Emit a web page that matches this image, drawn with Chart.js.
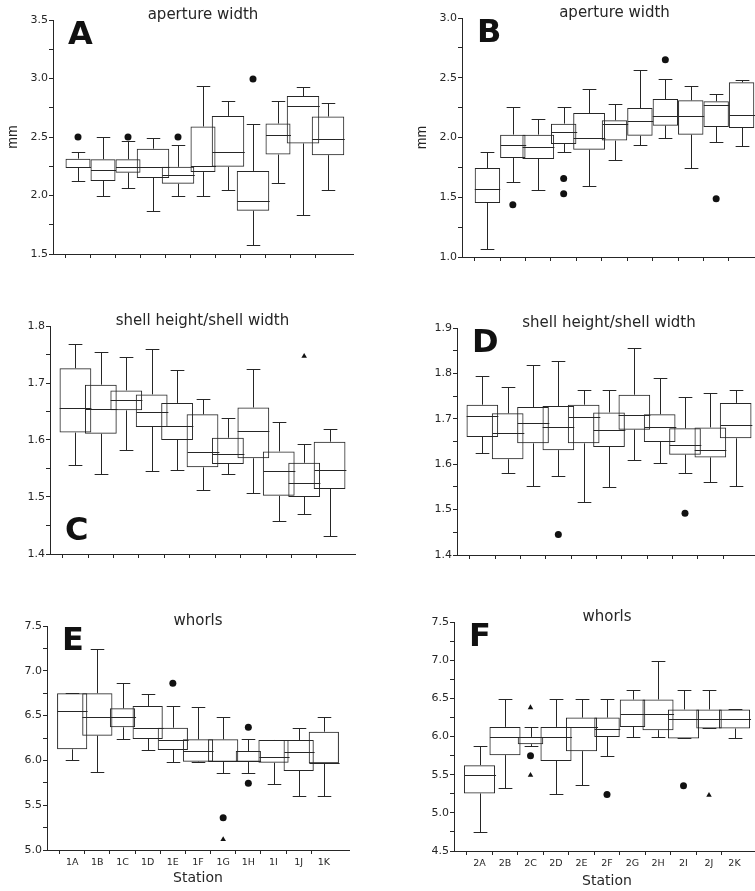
<!DOCTYPE html>
<html>
<head>
<meta charset="utf-8">
<script src="https://cdn.jsdelivr.net/npm/chart.js@4.4.1/dist/chart.umd.min.js"></script>
<style>
  html, body { margin: 0; padding: 0; background: #fff; width: 755px; height: 891px; overflow: hidden; position: relative; }
  canvas { position: absolute; }
</style>
</head>
<body>
<script>
// stations
const stations1 = ['1A', '1B', '1C', '1D', '1E', '1F', '1G', '1H', '1I', '1J', '1K'];
const stations2 = ['2A', '2B', '2C', '2D', '2E', '2F', '2G', '2H', '2I', '2J', '2K'];

// A: aperture width, stations 1
const aLo  = [2.12, 2.00, 2.06, 1.87, 2.00, 2.00, 2.05, 1.58, 2.11, 1.83, 2.045];
const aQ1  = [2.235, 2.125, 2.195, 2.15, 2.10, 2.20, 2.245, 1.87, 2.35, 2.445, 2.345];
const aMed = [2.245, 2.215, 2.245, 2.245, 2.175, 2.255, 2.375, 1.955, 2.515, 2.765, 2.48];
const aQ3  = [2.315, 2.31, 2.31, 2.40, 2.245, 2.59, 2.68, 2.21, 2.615, 2.85, 2.675];
const aHi  = [2.375, 2.50, 2.47, 2.495, 2.43, 2.935, 2.81, 2.615, 2.81, 2.93, 2.79];
const aDots = [['1A', 2.50], ['1C', 2.50], ['1E', 2.50], ['1H', 2.995]];
const aTris = [];
const aWide = ['1D', '1E', '1G', '1H', '1J', '1K'];

// B: aperture width, stations 2
const bLo  = [1.067, 1.625, 1.563, 1.879, 1.591, 1.809, 1.934, 2.00, 1.745, 1.96, 1.926];
const bQ1  = [1.452, 1.828, 1.82, 1.946, 1.898, 1.974, 2.015, 2.099, 2.024, 2.088, 2.08];
const bMed = [1.572, 1.934, 1.92, 2.046, 1.996, 2.116, 2.135, 2.183, 2.177, 2.275, 2.191];
const bQ3  = [1.745, 2.024, 2.024, 2.116, 2.205, 2.144, 2.247, 2.322, 2.311, 2.303, 2.462];
const bHi  = [1.879, 2.252, 2.158, 2.252, 2.406, 2.28, 2.562, 2.492, 2.434, 2.364, 2.484];
const bDots = [['2B', 1.438], ['2D', 1.656], ['2D', 1.53], ['2H', 2.651], ['2J', 1.488]];
const bTris = [];
const bWide = ['2C', '2E'];

// C: shell height/shell width, stations 1
const cLo  = [1.556, 1.541, 1.583, 1.545, 1.547, 1.512, 1.541, 1.507, 1.458, 1.471, 1.432];
const cQ1  = [1.613, 1.611, 1.652, 1.623, 1.600, 1.552, 1.558, 1.568, 1.502, 1.500, 1.514];
const cMed = [1.657, 1.654, 1.670, 1.649, 1.624, 1.579, 1.575, 1.616, 1.545, 1.525, 1.547];
const cQ3  = [1.726, 1.697, 1.687, 1.680, 1.665, 1.645, 1.604, 1.657, 1.580, 1.560, 1.597];
const cHi  = [1.769, 1.755, 1.746, 1.760, 1.722, 1.672, 1.639, 1.724, 1.632, 1.593, 1.620];
const cDots = [];
const cTris = [['1J', 1.747]];
const cWide = stations1;

// D: shell height/shell width, stations 2
const dLo  = [1.624, 1.580, 1.552, 1.574, 1.516, 1.549, 1.609, 1.602, 1.581, 1.561, 1.552];
const dQ1  = [1.660, 1.611, 1.646, 1.631, 1.646, 1.638, 1.676, 1.649, 1.621, 1.615, 1.657];
const dMed = [1.706, 1.668, 1.690, 1.682, 1.704, 1.676, 1.709, 1.682, 1.643, 1.632, 1.686];
const dQ3  = [1.731, 1.712, 1.726, 1.728, 1.731, 1.714, 1.753, 1.710, 1.679, 1.681, 1.735];
const dHi  = [1.794, 1.770, 1.819, 1.827, 1.764, 1.763, 1.855, 1.790, 1.748, 1.756, 1.764];
const dDots = [['2D', 1.445], ['2I', 1.492]];
const dTris = [];
const dWide = stations2;

// E: whorls, stations 1
const eLo  = [6.00, 5.867, 6.239, 6.116, 5.986, 5.986, 5.863, 5.863, 5.737, 5.606, 5.606];
const eQ1  = [6.124, 6.276, 6.369, 6.239, 6.116, 5.986, 5.986, 5.985, 5.974, 5.882, 5.967];
const eMed = [6.551, 6.488, 6.488, 6.358, 6.228, 6.105, 5.99, 5.99, 6.034, 6.09, 5.975];
const eQ3  = [6.75, 6.75, 6.581, 6.607, 6.365, 6.235, 6.235, 6.105, 6.228, 6.228, 6.32];
const eHi  = [6.75, 7.24, 6.86, 6.737, 6.607, 6.60, 6.481, 6.235, 6.228, 6.358, 6.481];
const eDots = [['1E', 6.86], ['1G', 5.361], ['1H', 6.369], ['1H', 5.744]];
const eTris = [['1G', 5.119]];
const eWide = ['1A', '1B', '1D', '1E', '1F', '1G', '1I', '1J', '1K'];

// F: whorls, stations 2
const fLo  = [4.744, 5.319, 5.874, 5.245, 5.363, 5.742, 5.995, 5.995, 5.974, 6.105, 5.974];
const fQ1  = [5.254, 5.756, 5.90, 5.68, 5.808, 5.995, 6.126, 6.083, 5.974, 6.105, 6.105];
const fMed = [5.494, 5.995, 5.995, 5.995, 6.126, 6.104, 6.292, 6.292, 6.223, 6.223, 6.223];
const fQ3  = [5.625, 6.126, 5.995, 6.126, 6.248, 6.248, 6.484, 6.485, 6.354, 6.354, 6.354];
const fHi  = [5.873, 6.497, 6.126, 6.497, 6.497, 6.497, 6.615, 6.985, 6.606, 6.606, 6.354];
const fDots = [['2C', 5.747], ['2F', 5.241], ['2I', 5.354]];
const fTris = [['2C', 6.379], ['2C', 5.494], ['2J', 5.232]];
const fWide = ['2A', '2B', '2D', '2E', '2H', '2I', '2K'];

const INK = '#262626';
const FONT = "'DejaVu Sans', sans-serif";
const Y_W = 52;     // forced y-axis width
const PAD_TOP = 30; // room above plot for title

const panels = [
  { letter: 'A', title: 'aperture width', st: stations1, lo: aLo, q1: aQ1, med: aMed, q3: aQ3, hi: aHi, dots: aDots, tris: aTris, wide: aWide, wf: 1.3,
    axisX: 53, slot: 25.17, top: 20, bottom: 254, yMin: 1.5, yMax: 3.5, yStep: 0.25, yMajor: 0.5, yTitle: 'mm', letterPos: 'top' },
  { letter: 'B', title: 'aperture width', st: stations2, lo: bLo, q1: bQ1, med: bMed, q3: bQ3, hi: bHi, dots: bDots, tris: bTris, wide: bWide, wf: 1.25,
    axisX: 462, slot: 25.6, top: 18.3, bottom: 257.3, yMin: 1.0, yMax: 3.0, yStep: 0.25, yMajor: 0.5, yTitle: 'mm', letterPos: 'top' },
  { letter: 'C', title: 'shell height/shell width', st: stations1, lo: cLo, q1: cQ1, med: cMed, q3: cQ3, hi: cHi, dots: cDots, tris: cTris, wide: cWide, wf: 1.25,
    axisX: 49.5, slot: 25.6, top: 325.7, bottom: 554, yMin: 1.4, yMax: 1.8, yStep: 0.05, yMajor: 0.1, letterPos: 'bottom' },
  { letter: 'D', title: 'shell height/shell width', st: stations2, lo: dLo, q1: dQ1, med: dMed, q3: dQ3, hi: dHi, dots: dDots, tris: dTris, wide: dWide, wf: 1.25,
    axisX: 457, slot: 25.5, top: 327.7, bottom: 555, yMin: 1.4, yMax: 1.9, yStep: 0.05, yMajor: 0.1, letterPos: 'top' },
  { letter: 'E', title: 'whorls', st: stations1, lo: eLo, q1: eQ1, med: eMed, q3: eQ3, hi: eHi, dots: eDots, tris: eTris, wide: eWide, wf: 1.2,
    axisX: 47, slot: 25.35, top: 626, bottom: 850, yMin: 5.0, yMax: 7.5, yStep: 0.25, yMajor: 0.5, xLabels: true, xH: 39, letterPos: 'top' },
  { letter: 'F', title: 'whorls', st: stations2, lo: fLo, q1: fQ1, med: fMed, q3: fQ3, hi: fHi, dots: fDots, tris: fTris, wide: fWide, wf: 1.22,
    axisX: 454, slot: 25.7, top: 621.7, bottom: 851, yMin: 4.5, yMax: 7.5, yStep: 0.25, yMajor: 0.5, xLabels: true, xH: 41, letterPos: 'top' },
];

function yTicks(min, max, step) {
  const t = [];
  for (let v = min; v <= max + step / 2; v += step) t.push({ value: Math.round(v * 1000) / 1000 });
  return t;
}

function makePanel(p) {
  const xH = p.xLabels ? p.xH : 10;
  const plotW = p.slot * 12, plotH = p.bottom - p.top;
  const w = Math.round(Y_W + plotW + 2), h = Math.round(PAD_TOP + plotH + xH);
  const cv = document.createElement('canvas');
  cv.width = w; cv.height = h;
  cv.style.width = w + 'px'; cv.style.height = h + 'px';
  cv.style.left = (p.axisX - Y_W) + 'px';
  cv.style.top = (p.top - PAD_TOP) + 'px';
  document.body.appendChild(cv);

  const labels = ['', ...p.st, ''];
  const boxData = (keep) => p.st.map((s, i) => ({ x: s, y: [p.q1[i], p.q3[i]] })).filter((d) => keep(d.x));
  const boxStyle = { type: 'bar', grouped: false, categoryPercentage: 1, inflateAmount: 0, backgroundColor: 'rgba(0,0,0,0)', borderColor: INK, borderWidth: 1, borderSkipped: false };
  const pts = (list) => list.map(([s, v]) => ({ x: s, y: v }));
  const isMajor = (v) => Math.abs(v / p.yMajor - Math.round(v / p.yMajor)) < 1e-6;

  // whiskers, caps and medians, placed through the chart scales
  const whiskers = {
    id: 'whiskers',
    afterDatasetsDraw(chart) {
      const { ctx, scales: { x, y } } = chart;
      const slotPx = x.getPixelForValue(1) - x.getPixelForValue(0);
      const cap = slotPx * 0.27;
      const snap = (v) => Math.round(v) + 0.5;
      const seg = (x1, y1, x2, y2) => { ctx.beginPath(); ctx.moveTo(x1, y1); ctx.lineTo(x2, y2); ctx.stroke(); };
      ctx.save();
      ctx.strokeStyle = INK;
      ctx.lineWidth = 1;
      p.st.forEach((s, i) => {
        const cx = snap(x.getPixelForValue(i + 1));
        const half = slotPx * (p.wide.includes(s) ? p.wf : 1) / 2;
        const yHi = snap(y.getPixelForValue(p.hi[i])), yLo = snap(y.getPixelForValue(p.lo[i]));
        seg(cx, y.getPixelForValue(p.q3[i]), cx, yHi);
        seg(cx - cap, yHi, cx + cap, yHi);
        seg(cx, y.getPixelForValue(p.q1[i]), cx, yLo);
        seg(cx - cap, yLo, cx + cap, yLo);
        const ym = snap(y.getPixelForValue(p.med[i]));
        seg(cx - half, ym, cx + half, ym);
      });
      ctx.restore();
    },
  };

  const panelText = {
    id: 'panelText',
    afterDraw(chart) {
      const { ctx, chartArea: a } = chart;
      ctx.save();
      ctx.fillStyle = INK;
      ctx.textAlign = 'center';
      ctx.textBaseline = 'alphabetic';
      ctx.font = `15px ${FONT}`;
      ctx.fillText(p.title, (a.left + a.right) / 2, a.top - 1.5);
      ctx.fillStyle = '#111';
      ctx.textAlign = 'left';
      ctx.font = `bold 32px ${FONT}`;
      const by = p.letterPos === 'top' ? a.top + 24 : a.bottom - 14;
      ctx.fillText(p.letter, a.left + 15, by);
      ctx.restore();
    },
  };

  new Chart(cv, {
    type: 'bar',
    data: {
      labels,
      datasets: [
        { ...boxStyle, data: boxData((s) => !p.wide.includes(s)), barPercentage: 1 },
        { ...boxStyle, data: boxData((s) => p.wide.includes(s)), barPercentage: p.wf },
        { type: 'line', data: pts(p.dots), showLine: false, pointStyle: 'circle', pointRadius: 3.5, pointBackgroundColor: '#111', pointBorderWidth: 0 },
        { type: 'line', data: pts(p.tris), showLine: false, pointStyle: 'triangle', pointRadius: 3.2, pointBackgroundColor: '#111', pointBorderWidth: 0 },
      ],
    },
    options: {
      responsive: false,
      animation: false,
      devicePixelRatio: 1,
      layout: { padding: { top: PAD_TOP, left: 0, right: 2, bottom: 0 } },
      plugins: { legend: { display: false }, tooltip: { enabled: false }, title: { display: false } },
      scales: {
        x: {
          type: 'category',
          labels,
          offset: false,
          afterFit: (s) => { s.height = xH; },
          ticks: { display: !!p.xLabels, autoSkip: false, maxRotation: 0, padding: 3, color: INK, font: { family: FONT, size: 9.5 } },
          grid: { drawOnChartArea: false, tickLength: 4, color: (c) => (c.index === 0 || c.index === labels.length - 1 ? 'rgba(0,0,0,0)' : INK) },
          border: { display: true, color: INK, width: 1 },
          title: p.xLabels
            ? { display: true, text: 'Station', color: INK, font: { family: FONT, size: 14 }, padding: { top: 0, bottom: 2 } }
            : { display: false },
        },
        y: {
          min: p.yMin,
          max: p.yMax,
          afterFit: (s) => { s.width = Y_W; },
          afterBuildTicks: (s) => { s.ticks = yTicks(p.yMin, p.yMax, p.yStep); },
          ticks: { autoSkip: false, padding: 1, color: INK, font: { family: FONT, size: 11 }, callback: (v) => (isMajor(v) ? v.toFixed(1) : '') },
          grid: { drawOnChartArea: false, tickLength: 4, color: INK },
          border: { display: true, color: INK, width: 1 },
          title: p.yTitle
            ? { display: true, text: p.yTitle, color: INK, font: { family: "'Liberation Sans', sans-serif", size: 14 }, padding: { top: 4, bottom: 0 } }
            : { display: false },
        },
      },
    },
    plugins: [whiskers, panelText],
  });
}

panels.forEach(makePanel);
</script>
</body>
</html>
